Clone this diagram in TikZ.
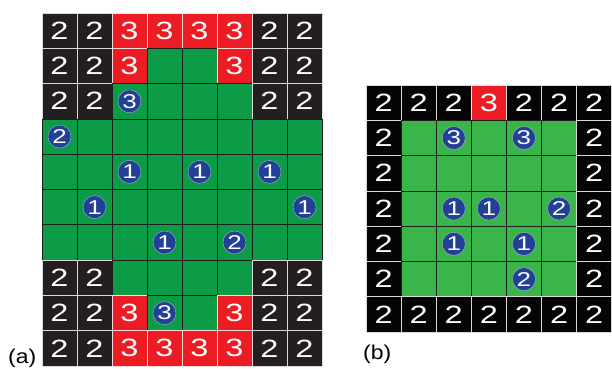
\documentclass[tikz,border=0pt]{standalone}
\usepackage{fontspec}
\setmainfont{Liberation Sans}
\newfontfamily\widefont[FakeStretch=1.3]{Liberation Sans}
\newfontfamily\tagfont[FakeStretch=1.15]{Liberation Sans}
\usetikzlibrary{positioning}
\definecolor{cellBlack}{RGB}{35,31,32}
\definecolor{pureBlack}{RGB}{5,5,5}
\definecolor{cellRed}{RGB}{237,28,36}
\definecolor{darkGreen}{RGB}{12,156,72}
\definecolor{lightGreen}{RGB}{57,181,74}
\definecolor{ballBlue}{RGB}{33,64,150}
\definecolor{gridLine}{RGB}{30,30,30}

\begin{document}
\begin{tikzpicture}[x=1pt, y=-1pt,
  cell/.style={rectangle, minimum width=35pt, minimum height=35.3pt,
               inner sep=0pt, outer sep=0pt, text=white,
               font=\widefont\fontsize{25}{25}\selectfont},
  cell k/.style={cell, fill=cellBlack, draw=white!85!black,
                 line width=0.8pt, node contents=2},
  cell r/.style={cell, fill=cellRed, draw=white!85!cellRed,
                 line width=0.8pt, node contents=3},
  cell g/.style={cell, fill=darkGreen, draw=gridLine,
                 line width=0.8pt, node contents={}},
  ball/.style={circle, fill=ballBlue, draw=white!60!ballBlue,
               line width=0.4pt, minimum size=23pt, inner sep=-4pt,
               text=white, font=\widefont\fontsize{20}{20}\selectfont},
  tag/.style={anchor=base west, inner sep=0pt,
              font=\tagfont\fontsize{20}{20}\selectfont}
]
  \useasboundingbox (0,0) rectangle (612,368);

  % (a) 8 x 10 board
  \foreach \row [count=\r from 0] in
    {{k,k,r,r,r,r,k,k},{k,k,r,g,g,r,k,k},{k,k,g,g,g,g,k,k},
     {g,g,g,g,g,g,g,g},{g,g,g,g,g,g,g,g},{g,g,g,g,g,g,g,g},
     {g,g,g,g,g,g,g,g},{k,k,g,g,g,g,k,k},{k,k,r,g,g,r,k,k},
     {k,k,r,r,r,r,k,k}}
    \foreach \c [count=\q from 0] in \row
      \node (a-\r-\q) at (59.5+35*\q, 30.65+35.3*\r) [cell \c];

  \foreach \pos/\n in {2-2/3,3-0/2,4-2/1,4-4/1,4-6/1,5-1/1,5-7/1,
                       6-3/1,6-5/2,8-3/3}
    \node[ball] at (a-\pos) {\n};

  % (b) 7 x 7 board
  \begin{scope}[cell k/.append style={fill=pureBlack},
                cell g/.append style={fill=lightGreen}]
    \foreach \row [count=\r from 0] in
      {{k,k,k,r,k,k,k},{k,g,g,g,g,g,k},{k,g,g,g,g,g,k},
       {k,g,g,g,g,g,k},{k,g,g,g,g,g,k},{k,g,g,g,g,g,k},
       {k,k,k,k,k,k,k}}
      \foreach \c [count=\q from 0] in \row
        \node (b-\r-\q) at (383.55+35.1*\q, 102.65+35.3*\r)
          [cell \c, minimum width=35.1pt];
  \end{scope}

  \foreach \pos/\n in {1-2/3,1-4/3,3-2/1,3-3/1,3-5/2,4-2/1,4-4/1,5-4/2}
    \node[ball] at (b-\pos) {\n};

  \node[tag] (labA) at (8,363) {(a)};
  \node[tag] (labB) at (363,359) {(b)};
\end{tikzpicture}
\end{document}
